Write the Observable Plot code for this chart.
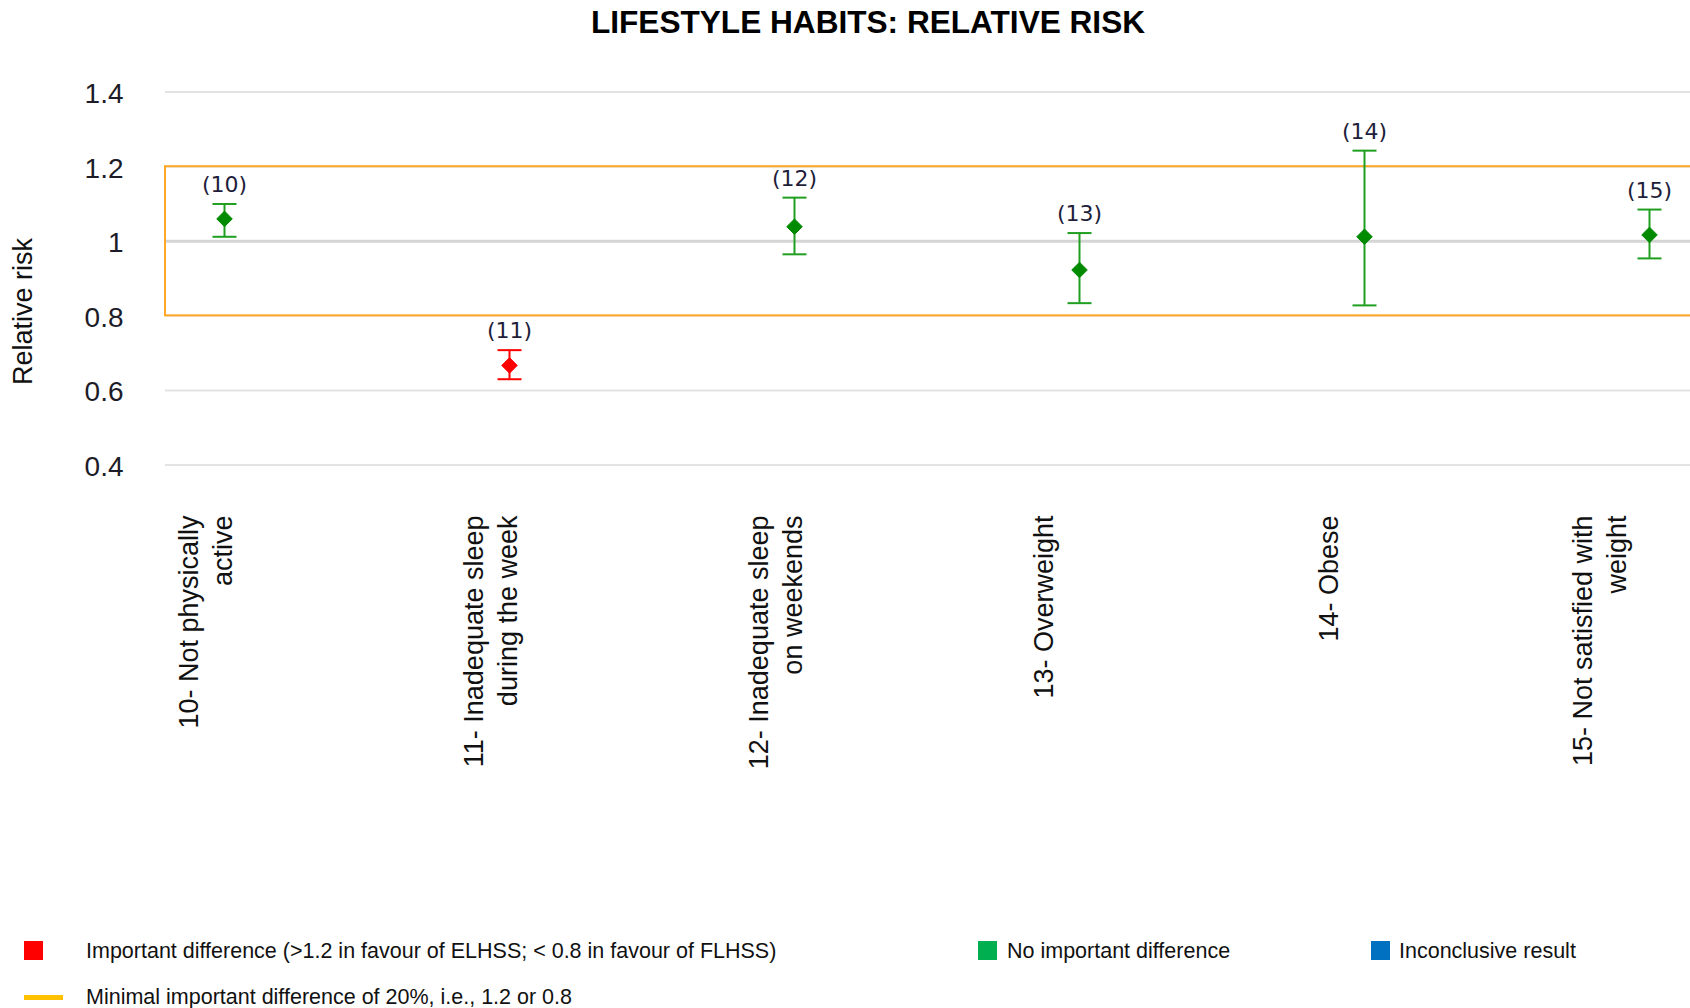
<!DOCTYPE html>
<html>
<head>
<meta charset="utf-8">
<script src="https://cdn.jsdelivr.net/npm/d3@7"></script>
<script src="https://cdn.jsdelivr.net/npm/@observablehq/plot@0.6"></script>
<style>
  html, body { margin: 0; padding: 0; background: #fff; width: 1690px; height: 1008px; overflow: hidden; }
  body { font-family: "Liberation Sans", Arial, sans-serif; }
  #title { position: relative; height: 56px; }
  #title span { position: absolute; left: 868px; top: 22px; transform: translate(-50%, -50%);
    font-weight: bold; font-size: 31.6px; color: #000; white-space: nowrap; }
  #chart svg { display: block; }
  #legend { position: relative; height: 78px; font-size: 21.5px; color: #111; }
  #legend .sw { position: absolute; }
  #legend .lt { position: absolute; line-height: 24px; white-space: nowrap; transform: translateY(-50%); }
</style>
</head>
<body>
<div id="title"><span>LIFESTYLE HABITS: RELATIVE RISK</span></div>
<div id="chart"></div>
<div id="legend"></div>
<script>
// Lifestyle habits: relative risk with confidence intervals
const keys = ["10", "11", "12", "13", "14", "15"];
const categoryLabels = [
  "10- Not physically\nactive",
  "11- Inadequate sleep\nduring the week",
  "12- Inadequate sleep\non weekends",
  "13- Overweight",
  "14- Obese",
  "15- Not satisfied with\nweight"
];
const pointTags = ["(10)", "(11)", "(12)", "(13)", "(14)", "(15)"];
const relativeRisk = [1.06, 0.667, 1.039, 0.923, 1.012, 1.017];
const lowerCI = [1.012, 0.630, 0.965, 0.834, 0.828, 0.954];
const upperCI = [1.100, 0.708, 1.117, 1.022, 1.243, 1.085];
const outcome = ["none", "important", "none", "none", "none", "none"];

const yTicks = [0.4, 0.6, 0.8, 1, 1.2, 1.4];
const yTickLabels = ["0.4", "0.6", "0.8", "1", "1.2", "1.4"];
const minimalDifference = [0.8, 1.2];

const legendLabels = [
  "Important difference (>1.2 in favour of ELHSS; < 0.8 in favour of FLHSS)",
  "No important difference",
  "Inconclusive result",
  "Minimal important difference of 20%, i.e., 1.2 or 0.8"
];

const barColor = {important: "#ff0000", none: "#1f9e1f"};
const dotColor = {important: "#ff0000", none: "#008a00"};

// horizontal cap drawn at the end of each interval
const capSymbol = {
  draw(context) {
    context.moveTo(-12, 0);
    context.lineTo(12, 0);
  }
};

const rows = keys.map((k, i) => ({
  key: k,
  label: categoryLabels[i],
  tag: pointTags[i],
  rr: relativeRisk[i],
  lo: lowerCI[i],
  hi: upperCI[i],
  outcome: outcome[i]
}));
// the last category label is pulled inward so it stays inside the page edge
const lastKey = keys[keys.length - 1];
const innerLabels = rows.filter(d => d.key !== lastKey);
const edgeLabels = rows.filter(d => d.key === lastKey);

const labelStyle = {
  x: "key", text: "label", frameAnchor: "bottom", rotate: -90,
  textAnchor: "end", lineAnchor: "top", lineHeight: 1.26,
  dy: 50.5, fontSize: 27, fill: "#111"
};

const chart = Plot.plot({
  width: 1690,
  height: 874,
  marginTop: 35.6,
  marginBottom: 465.5,
  marginLeft: 165,
  marginRight: 0,
  x: {type: "point", domain: keys, range: [224, 1649], padding: 0, axis: null},
  y: {domain: [0.4, 1.4], axis: null},
  color: {type: "identity"},
  style: {fontFamily: "'Liberation Sans', Arial, sans-serif", background: "#fff", color: "#222"},
  marks: [
    // horizontal gridlines, with the reference line at 1 emphasised
    Plot.ruleY(yTicks.filter(d => d !== 1), {stroke: "#e3e3e3", strokeWidth: 2}),
    Plot.ruleY(yTicks.filter(d => d === 1), {stroke: "#d5d5d5", strokeWidth: 3}),
    // band of minimal important difference
    Plot.rect([{lo: minimalDifference[0], hi: minimalDifference[1]}], {
      y1: "lo", y2: "hi", fill: "none", stroke: "#ffa726", strokeWidth: 2, insetRight: -10
    }),
    Plot.axisY(yTicks, {
      tickSize: 0, tickPadding: 42, dy: 2,
      tickFormat: d => yTickLabels[yTicks.indexOf(d)],
      fontSize: 28, fill: "#1c1c28"
    }),
    Plot.text(["Relative risk"], {
      frameAnchor: "left", textAnchor: "middle", lineAnchor: "middle",
      rotate: -90, dx: -142, dy: 33,
      fontSize: 27, fill: "#111"
    }),
    // confidence intervals
    Plot.ruleX(rows, {x: "key", y1: "lo", y2: "hi", stroke: d => barColor[d.outcome], strokeWidth: 2}),
    Plot.dot(rows, {x: "key", y: "hi", symbol: capSymbol, fill: "none", stroke: d => barColor[d.outcome], strokeWidth: 2}),
    Plot.dot(rows, {x: "key", y: "lo", symbol: capSymbol, fill: "none", stroke: d => barColor[d.outcome], strokeWidth: 2}),
    // point estimates
    Plot.dot(rows, {
      x: "key", y: "rr", symbol: "diamond2", r: 7,
      fill: d => dotColor[d.outcome], stroke: d => dotColor[d.outcome], strokeWidth: 1, strokeLinejoin: "round"
    }),
    Plot.text(rows, {
      x: "key", y: "hi", text: "tag", dy: -12, lineAnchor: "bottom",
      fontSize: 22, fontFamily: "'DejaVu Sans', sans-serif", fill: "#1e1e3a"
    }),
    // category labels under the frame
    Plot.text(innerLabels, {...labelStyle, dx: -51}),
    Plot.text(edgeLabels, {...labelStyle, dx: -82})
  ]
});
document.getElementById("chart").appendChild(chart);

// Legend
const legend = d3.select("#legend");
const swatches = [
  {left: 24, top: 11, w: 19, h: 19, color: "#ff0000"},
  {left: 978, top: 11, w: 19, h: 19, color: "#00b050"},
  {left: 1371, top: 11, w: 19, h: 19, color: "#0070c0"},
  {left: 24, top: 64.5, w: 39, h: 5, color: "#ffc000"}
];
const textSpots = [
  {left: 86, cy: 20.6},
  {left: 1007, cy: 20.6},
  {left: 1399, cy: 20.6},
  {left: 86, cy: 67}
];
swatches.forEach((s, i) => {
  legend.append("div").attr("class", "sw")
    .style("left", s.left + "px").style("top", s.top + "px")
    .style("width", s.w + "px").style("height", s.h + "px")
    .style("background", s.color);
  legend.append("div").attr("class", "lt")
    .style("left", textSpots[i].left + "px").style("top", textSpots[i].cy + "px")
    .text(legendLabels[i]);
});
</script>
</body>
</html>
